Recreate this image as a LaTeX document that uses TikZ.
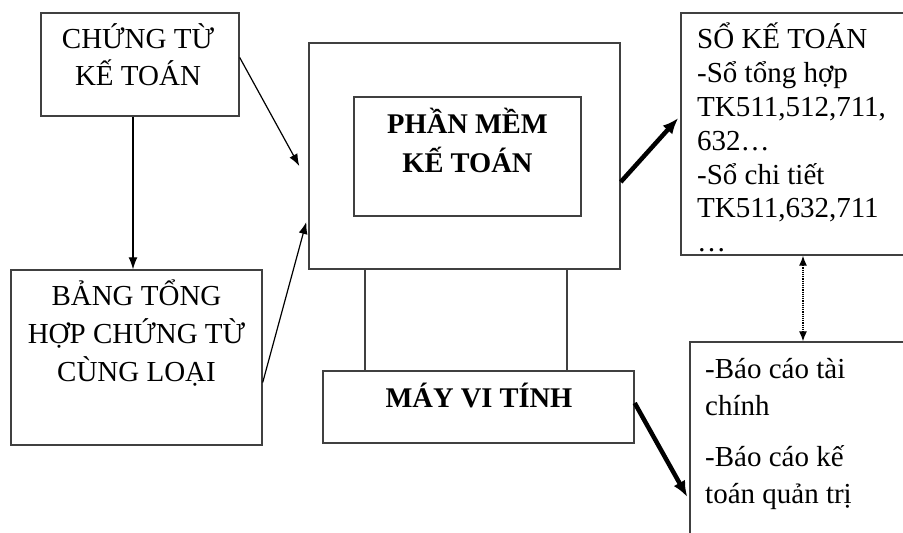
\documentclass[tikz,border=0pt]{standalone}
\usepackage{fontspec}
\setmainfont{Liberation Serif}
\usetikzlibrary{arrows.meta}
\tikzset{
  khung/.style={draw=black!75, line width=1.4pt, inner sep=0pt},
  chu/.style={font=\fontsize{29}{37}\selectfont, align=center, inner sep=0pt},
  muiten/.style={-{Latex[length=12pt,width=9pt]}, line width=1.2pt},
  muidam/.style={-{Latex[length=16pt,width=13pt]}, line width=4.5pt},
}
\begin{document}
\begin{tikzpicture}[x=1pt,y=-1pt]
                \useasboundingbox (0,0) rectangle (903,533);
                % cac khung ben trai
                \node[khung, minimum width=198pt, minimum height=103pt] (chungtu) at (140,64.5) {};
                \node[chu] (chungtuchu) at (138,55) {CHỨNG TỪ\\KẾ TOÁN};
                \node[khung, minimum width=251pt, minimum height=175pt] (bangth) at (136.5,357.5) {};
                \node[chu, font=\fontsize{29}{38}\selectfont] (bangthchu) at (136.5,333) {BẢNG TỔNG\\HỢP CHỨNG TỪ\\CÙNG LOẠI};
                % may vi tinh
                \node[khung, minimum width=311pt, minimum height=226pt] (manhinh) at (464.5,156) {};
                \node[khung, minimum width=227pt, minimum height=119pt] (phanmem) at (467.5,156.5) {};
                \node[chu, font=\bfseries\fontsize{28.5}{39}\selectfont] (phanmemchu) at (467.5,140.5) {PHẦN MỀM\\KẾ TOÁN};
                \node[khung, minimum width=311pt, minimum height=72pt] (may) at (478.5,407) {};
                \node[chu, font=\bfseries\fontsize{28.5}{39}\selectfont] (maychu) at (479,395.5) {MÁY VI TÍNH};
                \draw[black!75, line width=1.2pt]
                    ([xshift=-113.5pt]may.north) -- ([xshift=-113.5pt]may.north |- manhinh.south);
                \draw[black!75, line width=1.2pt]
                    ([xshift=88.5pt]may.north) -- ([xshift=88.5pt]may.north |- manhinh.south);
                % cac khung ben phai
                \node[khung, minimum width=248pt, minimum height=242pt] (sokt) at (805,134) {};
                \node[chu, font=\fontsize{29}{33.8}\selectfont, align=left, anchor=north west] (soktchu) at (697,23)
                    {SỔ KẾ TOÁN\\-Sổ tổng hợp\\TK511,512,711,\\632…\\-Sổ chi tiết\\TK511,632,711\\…};
                \node[khung, minimum width=240pt, minimum height=218pt] (baocao) at (810,451) {};
                \node[chu, align=left, anchor=north west] (baocaochu) at (705,358.5)
                    {-Báo cáo tài\\chính\\[14pt]-Báo cáo kế\\toán quản trị};
                % mui ten
                \draw[muiten]
                    ([xshift=-7pt]chungtu.south) -- ([xshift=-7pt]chungtu.south |- bangth.north);
                \draw[muiten]
                    ([yshift=7pt]chungtu.east) -- ([xshift=-9pt,yshift=-10pt]manhinh.west);
                \draw[muiten]
                    ([yshift=-25pt]bangth.east) -- ([xshift=-2pt,yshift=-66pt]manhinh.west);
                \draw[muidam]
                    ([yshift=-26pt]manhinh.east) -- ([xshift=-2pt,yshift=16pt]sokt.west);
                \draw[muidam]
                    ([yshift=4pt]may.east) -- ([xshift=-2pt,yshift=-46pt]baocao.west);
                \draw[densely dotted, line width=1.2pt, {Latex[length=10pt,width=8pt]}-{Latex[length=10pt,width=8pt]}]
                    ([xshift=-2pt]sokt.south) -- ([xshift=-2pt]sokt.south |- baocao.north);
            \end{tikzpicture}
\end{document}
